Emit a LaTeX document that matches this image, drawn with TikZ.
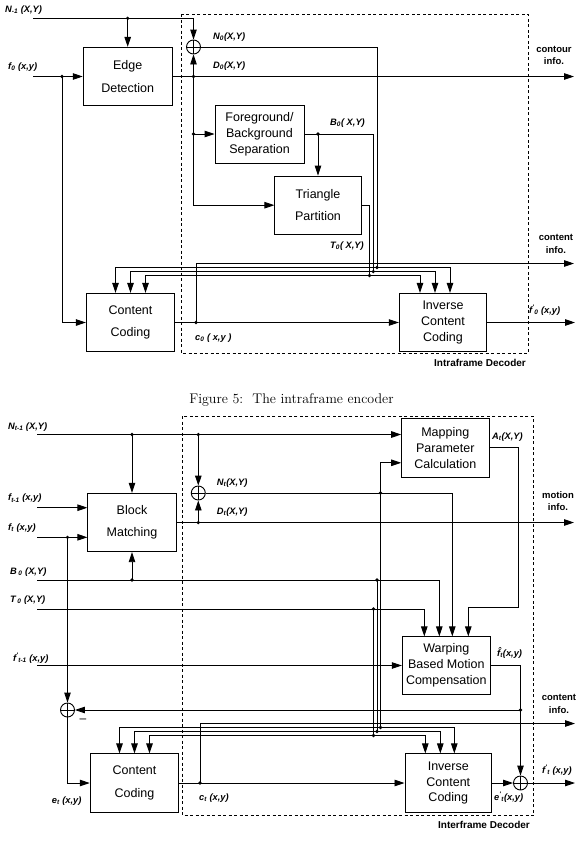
\documentclass[tikz,border=0pt]{standalone}
\usepackage{fontspec}
\usetikzlibrary{arrows.meta,calc}
\newfontfamily\lsans{Liberation Sans}
\newcommand\boxfontii{\lsans\fontsize{12.5}{22.5}\selectfont}
\newcommand\boxfontiii{\lsans\fontsize{12.5}{15.8}\selectfont}
\newcommand\labfont{\lsans\bfseries\itshape\fontsize{9.3}{10}\selectfont}
\newcommand\infofont{\lsans\bfseries\fontsize{9.5}{12.5}\selectfont}
\newcommand\decfont{\lsans\bfseries\fontsize{10}{12}\selectfont}
\newcommand\sbs[1]{\textsubscript{#1}}
\newcommand\pss[1]{\textsuperscript{'}\textsubscript{#1}}
\tikzset{
  x=1pt, y=-1pt,
  wire/.style={line width=0.9pt},
  arr/.style={wire, -{Triangle[length=10pt,width=6.5pt]}},
  blk/.style={draw, line width=0.9pt, rectangle, inner sep=0pt, align=center},
  twol/.style={blk, font=\boxfontii},
  threel/.style={blk, font=\boxfontiii},
  lab/.style={font=\labfont, inner sep=0pt, anchor=west},
  info/.style={font=\infofont, inner sep=0pt, align=center},
  dec/.style={font=\decfont, inner sep=0pt},
  sum/.style={circle, draw, line width=0.9pt, minimum size=14pt, inner sep=0pt,
    path picture={\draw[line width=0.9pt] (path picture bounding box.north) -- (path picture bounding box.south)
      (path picture bounding box.west) -- (path picture bounding box.east);}},
  frame/.style={line width=0.7pt, dash pattern=on 3pt off 2.5pt},
}
\begin{document}
\begin{tikzpicture}
\useasboundingbox (0,0) rectangle (582,844);
%================ TOP: intraframe encoder ================
\draw[frame] (181,14) rectangle (528,353);
\node[twol, minimum width=89pt, minimum height=58.4pt] (ed) at (127.7,76.5) {Edge\\Detection};
\node[threel, minimum width=89pt, minimum height=58pt] (fg) at (259.5,134) {Foreground/\\Background\\Separation};
\node[twol, minimum width=86.3pt, minimum height=58.3pt] (tri) at (318,205.2) {Triangle\\Partition};
\node[twol, minimum width=88.3pt, minimum height=58.3pt] (cc) at (130.5,322.5) {Content\\Coding};
\node[threel, minimum width=87.4pt, minimum height=58.3pt] (ic) at (443,322.5) {Inverse\\Content\\Coding};
\node[sum] (s0) at (193.5,47) {};

\coordinate (inN) at (33,18.3);
\coordinate (jN) at (127.7,18.3);
\coordinate (inF) at (33,76.5);
\coordinate (jF) at (62,76.5);
\coordinate (jD) at (193.5,76.5);
\coordinate (jD2) at (193.5,134);
\coordinate (jB) at (318,134);
\coordinate (outD) at (574,76.5);
\coordinate (bN) at (377,267.5);
\coordinate (bB) at (373.3,271.5);
\coordinate (bT) at (369.5,275.5);
\coordinate (jc) at (196,322.5);
\coordinate (outC) at (574,263.5);
\coordinate (outF) at (575,322.5);

\draw[arr] (inN) -| (s0.north);
\draw[arr] (jN) -- (ed.north);
\draw[arr] (inF) -- (ed.west);
\draw[arr] (jF) |- (cc.west);
\draw[arr] (ed.east) -- (outD);
\draw[arr] (jD) -- (s0.south);
\draw[arr] (jD) |- (tri.west);
\draw[arr] (jD2) -- (fg.west);
\draw[wire] (s0.east) -| (bN);
\draw[wire] (fg.east) -| (bB);
\draw[arr] (jB) -- (tri.north);
\draw[wire] (tri.east) -| (bT);
\draw[arr] (jc) |- (outC);
\draw[arr] (cc.east) -- (ic.west);
\draw[arr] (ic.east) -- (outF);
\draw[arr] (bN) -| ([xshift=-15pt]cc.north);
\draw[arr] (bB) -| (cc.north);
\draw[arr] (bT) -| ([xshift=15pt]cc.north);
\draw[arr] (bN) -| ([xshift=7pt]ic.north);
\draw[arr] (bB) -| ([xshift=-8pt]ic.north);
\draw[arr] (bT) -| ([xshift=-23pt]ic.north);
\foreach \p in {jN,jF,jD,jD2,jB,bN,bB,bT,jc} \fill (\p) circle (1.8pt);

\node[lab] (lN1) at (5,10) {N\sbs{-1} (X,Y)};
\node[lab] (lf0) at (8,67) {f\sbs{0} (x,y)};
\node[lab] (lN0) at (213,37) {N\sbs{0}(X,Y)};
\node[lab] (lD0) at (213,66) {D\sbs{0}(X,Y)};
\node[lab] (lB0) at (330,123) {B\sbs{0}( X,Y)};
\node[lab] (lT0) at (330,246) {T\sbs{0}( X,Y)};
\node[lab] (lc0) at (195,338) {c\sbs{0} ( x,y )};
\node[lab] (lfp0) at (529,310) {f\pss{0} (x,y)};
\node[info] (icont) at (554,55.5) {contour\\info.};
\node[info] (icnt) at (556,244) {content\\info.};
\node[dec] (dIntra) at (480,363) {Intraframe Decoder};

\node[font=\fontsize{14}{16}\selectfont, inner sep=0pt] (cap) at (291.5,400) {Figure 5:\ \ The intraframe encoder};

%================ BOTTOM: interframe encoder ================
\draw[frame] (182.7,416) rectangle (533.3,815.7);
\node[threel, minimum width=87.3pt, minimum height=59pt] (mp) at (445.3,447.8) {Mapping\\Parameter\\Calculation};
\node[twol, minimum width=88.3pt, minimum height=58.4pt] (bm) at (132,522.5) {Block\\Matching};
\node[threel, minimum width=88pt, minimum height=57.3pt] (wp) at (446.3,665.5) {Warping\\Based Motion\\Compensation};
\node[twol, minimum width=88.6pt, minimum height=58.3pt] (cc2) at (134.5,783) {Content\\Coding};
\node[threel, minimum width=86.7pt, minimum height=58.3pt] (ic2) at (448.3,783) {Inverse\\Content\\Coding};
\node[sum] (s1) at (198.3,493) {};
\node[sum] (s2) at (67.5,710) {};
\node[sum] (s3) at (520.5,783) {};

\coordinate (inN2) at (37,434.5);
\coordinate (jNa) at (132,434.5);
\coordinate (jNb) at (198.3,434.5);
\coordinate (inFt1) at (37,507.7);
\coordinate (inFt) at (37,537.3);
\coordinate (jFt) at (67.5,537.3);
\coordinate (jDt) at (198.3,522.5);
\coordinate (outD2) at (574,522.5);
\coordinate (jNt) at (380.5,493);
\coordinate (bNt) at (380.5,727.5);
\coordinate (aC) at (518.3,607.5);
\coordinate (inB) at (37,580);
\coordinate (jBb) at (132,580);
\coordinate (jBv) at (377,580);
\coordinate (bB2) at (377,731.5);
\coordinate (inT) at (37,609);
\coordinate (jTv) at (373.5,609);
\coordinate (bT2) at (373.5,735.5);
\coordinate (inFp) at (37,665.5);
\coordinate (jW) at (520.5,710);
\coordinate (jct) at (200,783);
\coordinate (outC2) at (575,723.5);
\coordinate (outF2) at (575,783);

\draw[arr] (inN2) -- (inN2 -| mp.west);
\draw[arr] (jNa) -- (bm.north);
\draw[arr] (jNb) -- (s1.north);
\draw[arr] (inFt1) -- (inFt1 -| bm.west);
\draw[arr] (inFt) -- (inFt -| bm.west);
\draw[arr] (jFt) -- (s2.north);
\draw[arr] (bm.east) -- (outD2);
\draw[arr] (jDt) -- (s1.south);
\draw[arr] (s1.east) -| ([xshift=6pt]wp.north);
\draw[arr] (jNt) |- ($(mp.west)+(0,15)$);
\draw[wire] (jNt) -- (bNt);
\draw[arr] (mp.east) -| (aC) -| ([xshift=22pt]wp.north);
\draw[arr] (inB) -| ([xshift=-7pt]wp.north);
\draw[arr] (jBb) -- (bm.south);
\draw[wire] (jBv) -- (bB2);
\draw[arr] (inT) -| ([xshift=-22pt]wp.north);
\draw[wire] (jTv) -- (bT2);
\draw[arr] (inFp) -- (wp.west);
\draw[wire] (wp.east) -| (jW);
\draw[arr] (jW) -- (s3.north);
\draw[arr] (jW) -- (s2.east);
\draw[arr] (s2.south) |- (cc2.west);
\draw[arr] (cc2.east) -- (ic2.west);
\draw[arr] (jct) |- (outC2);
\draw[arr] (ic2.east) -- (s3.west);
\draw[arr] (s3.east) -- (outF2);
\draw[arr] (bNt) -| ([xshift=-15pt]cc2.north);
\draw[arr] (bB2) -| (cc2.north);
\draw[arr] (bT2) -| ([xshift=15pt]cc2.north);
\draw[arr] (bNt) -| ([xshift=6pt]ic2.north);
\draw[arr] (bB2) -| ([xshift=-8pt]ic2.north);
\draw[arr] (bT2) -| ([xshift=-23pt]ic2.north);
\foreach \p in {jNa,jNb,jFt,jDt,jNt,jBb,jBv,jTv,bNt,bB2,bT2,jW,jct} \fill (\p) circle (1.8pt);

\node[lab] (lNt1) at (8,426.7) {N\sbs{t-1} (X,Y)};
\node[lab] (lft1) at (8,498.3) {f\sbs{t-1} (x,y)};
\node[lab] (lft) at (8,528.3) {f\sbs{t} (x,y)};
\node[lab] (lB0b) at (10,571.7) {B\,\sbs{0} (X,Y)};
\node[lab] (lT0b) at (10,600) {T\,\sbs{0} (X,Y)};
\node[lab] (lfpt1) at (13,658.3) {f\pss{t-1} (x,y)};
\node[lab] (lNt) at (216.7,483.3) {N\sbs{t}(X,Y)};
\node[lab] (lDt) at (216.7,512.3) {D\sbs{t}(X,Y)};
\node[lab] (lAt) at (492,437.3) {A\sbs{t}(X,Y)};
\node[lab] (lhat) at (497,653.3) {\^{f}\sbs{t}(x,y)};
\node[lab] (lept) at (494,797) {e\pss{t}(x,y)};
\node[lab] (lfpt) at (542,770) {f\pss{t} (x,y)};
\node[lab] (let) at (51.7,800.7) {e\sbs{t} (x,y)};
\node[lab] (lct) at (199,798.3) {c\sbs{t} (x,y)};
\node[font=\lsans\fontsize{12}{12}\selectfont, inner sep=0pt] (minus) at (83,721) {\textendash};
\node[info] (imot) at (558,501) {motion\\info.};
\node[info] (icnt2) at (559,704) {content\\info.};
\node[dec] (dInter) at (484,825) {Interframe Decoder};
\end{tikzpicture}
\end{document}
